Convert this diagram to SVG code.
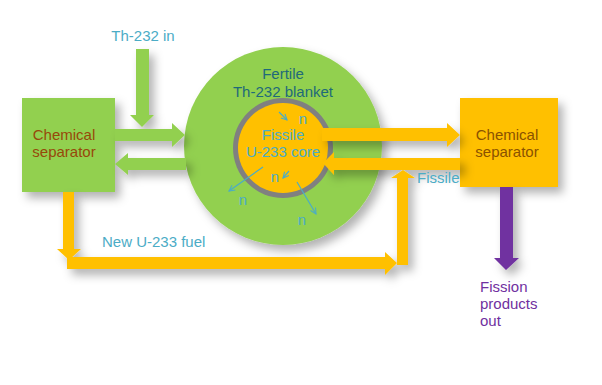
<svg xmlns="http://www.w3.org/2000/svg" width="602" height="385" viewBox="0 0 602 385">
<defs>
<filter id="sh" x="-30%" y="-30%" width="170%" height="170%">
<feDropShadow dx="5" dy="6" stdDeviation="5" flood-color="#000" flood-opacity="0.3"/>
</filter>
<style>
text{font-family:"Liberation Sans",Arial,sans-serif;font-size:15px;}
.g{fill:#92D050;}
.o{fill:#FFC000;}
.blue{fill:#4BACC6;}
.teal{fill:#1F6A7A;}
.brown{fill:#97480A;}
.obrown{fill:#8A5200;}
.purple{fill:#7030A0;}
.na{stroke:#4BACC6;stroke-width:1.2;fill:none;marker-end:url(#ah);}
</style>
<marker id="ah" viewBox="0 0 10 10" refX="9" refY="5" markerWidth="6" markerHeight="6" orient="auto">
<path d="M1,1 L9,5 L1,9" fill="none" stroke="#4BACC6" stroke-width="1.5"/>
</marker>
</defs>
<rect width="602" height="385" fill="#fff"/>

<g id="left-separator">
<rect x="22" y="98" width="93" height="94" class="g" filter="url(#sh)"/>
<text x="64" y="140" text-anchor="middle" class="brown">Chemical</text>
<text x="64" y="157" text-anchor="middle" class="brown">separator</text>
</g>

<g id="blanket">
<circle cx="283" cy="146" r="99" class="g" filter="url(#sh)"/>
<text x="283" y="79" text-anchor="middle" class="teal">Fertile</text>
<text x="283" y="97" text-anchor="middle" class="teal">Th-232 blanket</text>
</g>

<g id="core">
<circle cx="283" cy="148" r="50" fill="#808080"/>
<circle cx="283" cy="148" r="45" class="o"/>
<text x="283" y="140" text-anchor="middle" class="blue">Fissile</text>
<text x="283" y="157" text-anchor="middle" class="blue">U-233 core</text>
</g>

<g id="right-separator">
<rect x="460" y="98" width="98" height="89" class="o" filter="url(#sh)"/>
<text x="507" y="140" text-anchor="middle" class="obrown">Chemical</text>
<text x="507" y="157" text-anchor="middle" class="obrown">separator</text>
</g>

<g id="connectors" filter="url(#sh)">
<!-- Th-232 in down arrow -->
<polygon class="g" points="136,49 149,49 149,115 154,115 142,127 130,115 136,115"/>
<!-- green right arrow to blanket -->
<polygon class="g" points="115,129 172,129 172,123 185,135 172,147 172,141 115,141"/>
<!-- green left arrow from blanket -->
<polygon class="g" points="186,158 128,158 128,153 115,164 128,175 128,170 186,170"/>
<!-- orange core to right separator -->
<polygon class="o" points="322,128 447,128 447,123 460,135 447,147 447,141 322,141"/>
<!-- orange separator back to core -->
<polygon class="o" points="460,158 334,158 334,152 323,163 334,175 334,170 460,170"/>
<!-- down from left separator -->
<polygon class="o" points="63,192 74,192 74,249 81,249 69,260 57,249 63,249"/>
<!-- bottom horizontal -->
<polygon class="o" points="67,257 385,257 385,252 397,263 385,275 385,269 67,269"/>
<!-- up vertical -->
<polygon class="o" points="397,265 408,265 408,178 415,178 403,170 391,178 397,178"/>
<!-- purple down -->
<polygon class="purple" points="500,187 513,187 513,258 519,258 506,270 494,258 500,258"/>
</g>

<g id="neutrons">
<line class="na" x1="279" y1="112" x2="287" y2="120"/>
<text x="303" y="124" text-anchor="middle" class="blue">n</text>
<line class="na" x1="289" y1="171" x2="283" y2="178"/>
<text x="275" y="182" text-anchor="middle" class="blue">n</text>
<line class="na" x1="263" y1="167" x2="229" y2="191"/>
<text x="243" y="205" text-anchor="middle" class="blue">n</text>
<line class="na" x1="297" y1="182" x2="316" y2="214"/>
<text x="302" y="225" text-anchor="middle" class="blue">n</text>
</g>

<g id="labels">
<text x="143" y="41" text-anchor="middle" class="blue">Th-232 in</text>
<text x="417" y="183" class="blue">Fissile</text>
<text x="102" y="247" class="blue">New U-233 fuel</text>
<text x="480" y="292" class="purple">Fission</text>
<text x="480" y="309" class="purple">products</text>
<text x="480" y="326" class="purple">out</text>
</g>
</svg>
